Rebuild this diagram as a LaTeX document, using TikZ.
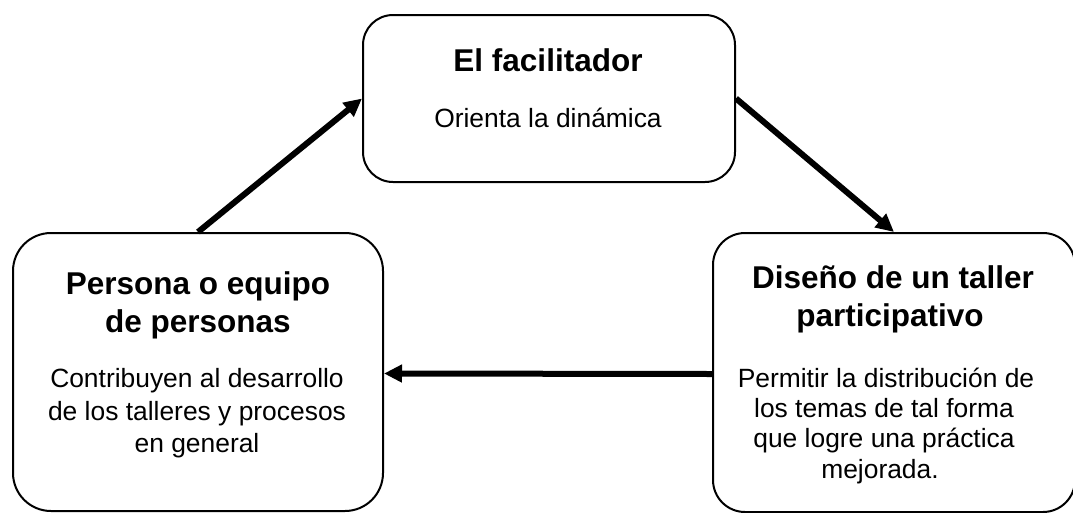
\documentclass[tikz,border=0pt]{standalone}
\usepackage{fontspec}
\setmainfont{Liberation Sans}
\usetikzlibrary{arrows.meta}
\begin{document}
\begin{tikzpicture}[x=1pt,y=-1pt,
  box/.style={draw, line width=2pt, inner sep=0pt, fill=white},
  ttl/.style={anchor=base, inner sep=0pt, font=\bfseries\fontsize{31.5}{37}\selectfont},
  txt/.style={anchor=base, inner sep=0pt, font=\fontsize{26.4}{32}\selectfont},
  conn/.style={line width=6pt, -{Triangle[length=18pt,width=17pt]}}
]
\useasboundingbox (0,0) rectangle (1073,512);
\clip (0,0) rectangle (1073,512);
% boxes
\node[box, rounded corners=30pt, minimum width=372pt, minimum height=167pt] (T) at (549,98.5) {};
\node[box, rounded corners=38pt, minimum width=370pt, minimum height=278pt] (L) at (198,372) {};
\node[box, rounded corners=32pt, minimum width=362pt, minimum height=279pt] (R) at (894,372.5) {};
% top box text
\node[ttl] (t1) at (548,71) {El facilitador};
\node[txt] (t2) at (548,127) {Orienta la dinámica};
% left box text
\node[ttl] (l1) at (198,294) {Persona o equipo};
\node[ttl] (l2) at (198,332) {de personas};
\node[txt] (l3) at (197,387) {Contribuyen al desarrollo};
\node[txt] (l4) at (197,420) {de los talleres y procesos};
\node[txt] (l5) at (197,452) {en general};
% right box text
\node[ttl] (r1) at (893,288) {Diseño de un taller};
\node[ttl] (r2) at (890,326) {participativo};
\node[txt] (r3) at (886,387) {Permitir la distribución de};
\node[txt] (r4) at (884,417) {los temas de tal forma};
\node[txt] (r5) at (884,447) {que logre una práctica};
\node[txt] (r6) at (880,478) {mejorada.};
% connectors
\draw[conn] (L.north) -- (T.west);
\draw[conn] (T.east) -- (R.north);
\draw[conn] ([yshift=-1.5pt]R.west) -- ([yshift=-1.5pt]L.east);
\end{tikzpicture}
\end{document}
